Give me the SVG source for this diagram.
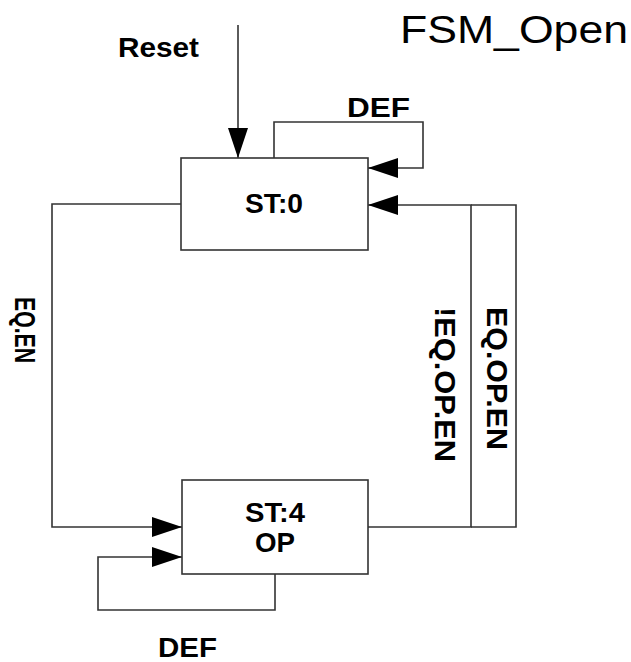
<svg xmlns="http://www.w3.org/2000/svg" width="631" height="662" viewBox="0 0 631 662">
<style>
.box{fill:#fff;stroke:#333;stroke-width:1.6}
.wire{fill:none;stroke:#333;stroke-width:1.6}
.lbl{font-family:"Liberation Sans",Arial,sans-serif;font-weight:bold;font-size:28px;fill:#000}
.rot{font-size:30px}
.title{font-family:"Liberation Sans",Arial,sans-serif;font-size:39px;fill:#000}
</style>
<defs>
<marker id="arr" markerUnits="userSpaceOnUse" markerWidth="31" markerHeight="20" refX="30" refY="10" orient="auto">
<path d="M0,0 L30,10 L0,20 z" fill="#000"/>
</marker>
</defs>
<rect width="631" height="662" fill="#fff"/>
<text class="title" x="400" y="43" textLength="228" lengthAdjust="spacingAndGlyphs">FSM_Open</text>
<g id="connectors">
<path class="wire" d="M238,25 L238,158" marker-end="url(#arr)"/>
<path class="wire" d="M274,158 L274,122 L423,122 L423,168 L368,168" marker-end="url(#arr)"/>
<path class="wire" d="M181,204 L52,204 L52,527 L182,527" marker-end="url(#arr)"/>
<path class="wire" d="M275,574 L275,610 L98,610 L98,557 L182,557" marker-end="url(#arr)"/>
<path class="wire" d="M368,527 L471,527 L471,205 L368,205" marker-end="url(#arr)"/>
<path class="wire" d="M471,527 L516,527 L516,205 L471,205"/>
<text class="lbl" x="118" y="57" textLength="81" lengthAdjust="spacingAndGlyphs">Reset</text>
<text class="lbl" x="347" y="117" textLength="63" lengthAdjust="spacingAndGlyphs">DEF</text>
<text class="lbl" x="158" y="657" textLength="59" lengthAdjust="spacingAndGlyphs">DEF</text>
<text class="lbl rot" transform="translate(15,297) rotate(90)" x="0" y="0" textLength="66" lengthAdjust="spacingAndGlyphs">EQ.EN</text>
<text class="lbl rot" transform="translate(435,307) rotate(90)" x="0" y="0" textLength="155" lengthAdjust="spacingAndGlyphs">!EQ.OP.EN</text>
<text class="lbl rot" transform="translate(487,307) rotate(90)" x="0" y="0" textLength="143" lengthAdjust="spacingAndGlyphs">EQ.OP.EN</text>
</g>
<g id="st0">
<rect class="box" x="181" y="158" width="187" height="92"/>
<text class="lbl" x="274" y="213" text-anchor="middle" textLength="58" lengthAdjust="spacingAndGlyphs">ST:0</text>
</g>
<g id="st4">
<rect class="box" x="182" y="480" width="186" height="94"/>
<text class="lbl" x="275" y="522" text-anchor="middle" textLength="60" lengthAdjust="spacingAndGlyphs">ST:4</text>
<text class="lbl" x="275" y="552" text-anchor="middle" textLength="40" lengthAdjust="spacingAndGlyphs">OP</text>
</g>
</svg>
